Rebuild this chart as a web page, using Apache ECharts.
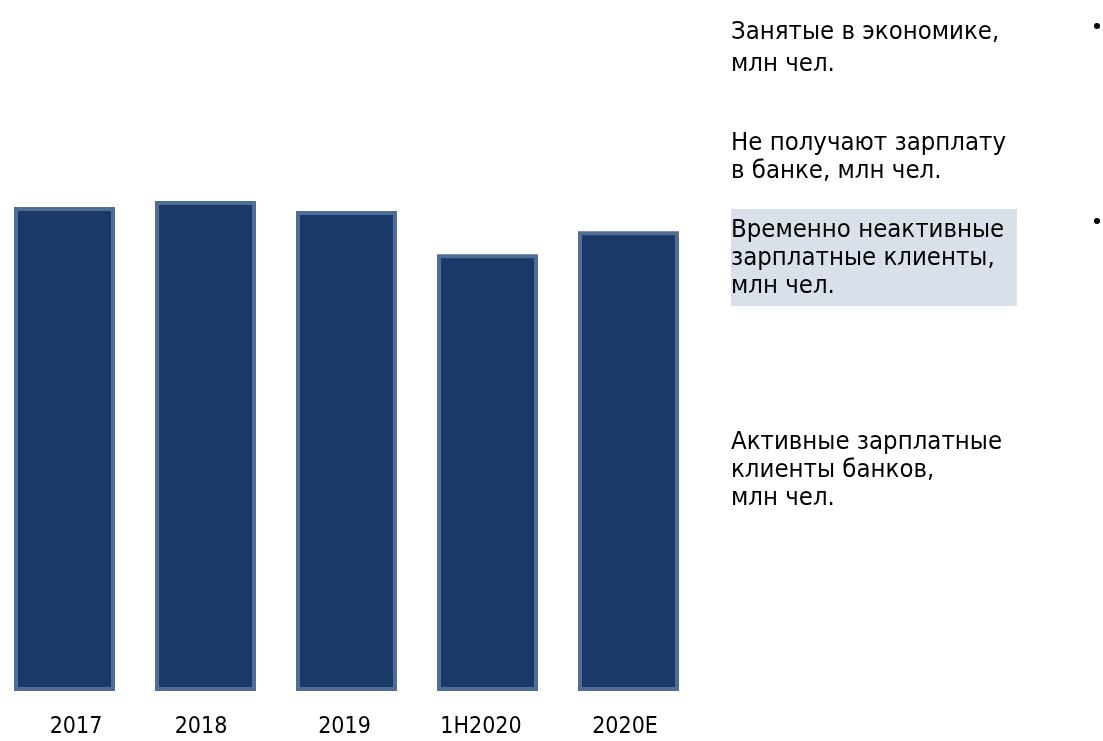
<!DOCTYPE html>
<html>
<head>
<meta charset="utf-8">
<script src="https://cdn.jsdelivr.net/npm/echarts@6/dist/echarts.min.js"></script>
<style>
  html, body { margin: 0; padding: 0; background: #ffffff; }
  #chart { width: 1103px; height: 741px; }
</style>
</head>
<body>
<div id="chart"></div>
<script>
// Годы / периоды
const categories = ['2017', '2018', '2019', '1H2020', '2020E'];
// Занятые в экономике, млн чел.
const employed = [71.7, 72.6, 71.1, 64.7, 68.1];

// Подписи справа
const noteEmployed = 'Занятые в экономике,\nмлн чел.';
const noteNoSalary = 'Не получают зарплату\nв банке, млн чел.';
const noteInactive = 'Временно неактивные\nзарплатные клиенты,\nмлн чел.';
const noteActive = 'Активные зарплатные\nклиенты банков,\nмлн чел.';

// небольшие сдвиги подписей оси X (px, + вправо)
const labelNudge = [11.5, -4.5, -2, -6.5, -3.5];

const FONT = '"DejaVu Sans Condensed", "DejaVu Sans", sans-serif';

const axisItems = categories.map((c, i) => {
  const n = labelNudge[i];
  return {
    value: c,
    textStyle: { padding: n >= 0 ? [0, 0, 0, 2 * n] : [0, -2 * n, 0, 0] }
  };
});

function note(text, top, lineHeight) {
  return {
    type: 'text', left: 731, top: top, z: 10,
    style: {
      text: text,
      fontFamily: FONT,
      fontSize: 25.5,
      lineHeight: lineHeight,
      fill: '#000000'
    }
  };
}

const chart = echarts.init(document.getElementById('chart'), null, { renderer: 'canvas' });
chart.setOption({
  animation: false,
  backgroundColor: '#ffffff',
  grid: { left: -6, right: 404, top: 151, bottom: 50, outerBoundsMode: 'none' },
  xAxis: {
    type: 'category',
    data: axisItems,
    axisLine: { show: false },
    axisTick: { show: false },
    axisLabel: {
      margin: 25,
      fontFamily: FONT,
      fontSize: 23,
      color: '#000000'
    }
  },
  yAxis: {
    type: 'value',
    min: 0,
    max: 80,
    show: false,
    splitLine: { show: false }
  },
  series: [{
    type: 'bar',
    data: employed,
    barWidth: 101,
    itemStyle: {
      color: '#1a3968',
      borderColor: '#516d95',
      borderWidth: 4
    }
  }],
  graphic: [
    {
      type: 'rect', left: 731, top: 209, z: 5,
      shape: { width: 286, height: 97 },
      style: { fill: '#dae0ea' }
    },
    note(noteEmployed, 16, 32),
    note(noteNoSalary, 129, 28),
    note(noteInactive, 216, 28),
    note(noteActive, 428, 28),
    { type: 'circle', shape: { cx: 1097, cy: 26, r: 3 }, style: { fill: '#000000' } },
    { type: 'circle', shape: { cx: 1097, cy: 221, r: 3 }, style: { fill: '#000000' } }
  ]
});
</script>
</body>
</html>
